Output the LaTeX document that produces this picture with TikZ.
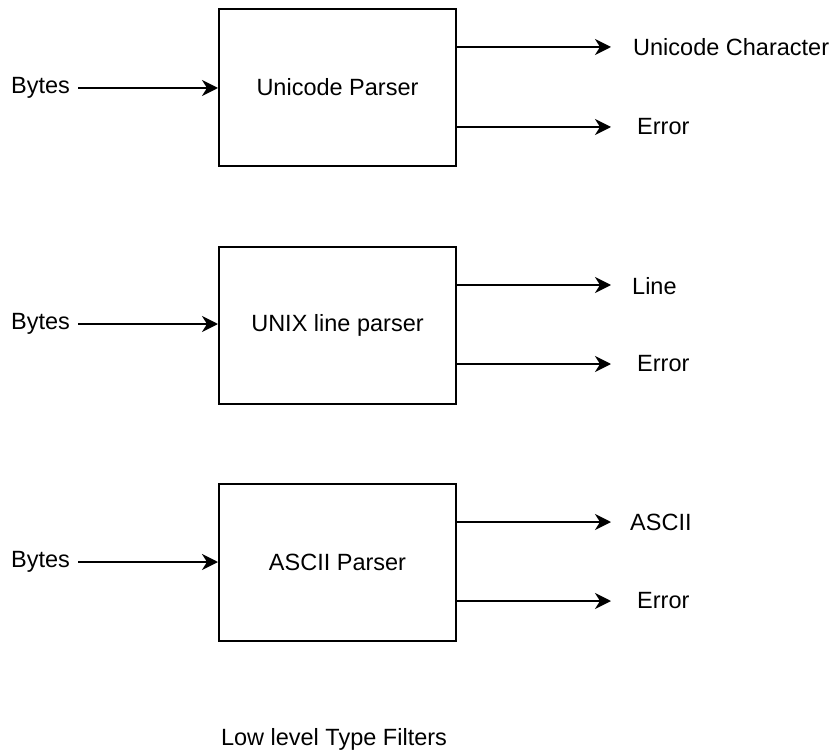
\documentclass[tikz,border=0pt]{standalone}
\usepackage{fontspec}
\setmainfont{Liberation Sans}
\usetikzlibrary{arrows.meta}
\begin{document}
\begin{tikzpicture}[x=1pt,y=-1pt,
  every node/.style={font=\fontsize{23.5}{27}\selectfont, inner sep=0pt},
  parser/.style={draw, line width=2pt, minimum width=237pt, minimum height=157pt, anchor=north west},
  lbl/.style={anchor=west},
  conn/.style={line width=2pt, -{Stealth[length=16pt,width=16pt,inset=5pt]}}]
\useasboundingbox (0,0) rectangle (833,754);
% boxes
\node[parser] (p1) at (218,8) {Unicode Parser};
\node[parser] (p2) at (218,246) {UNIX line parser};
\node[parser] (p3) at (218,483) {ASCII Parser};
% inputs
\node[lbl] (b1) at (11,88) {Bytes};
\node[lbl] (b2) at (11,324) {Bytes};
\node[lbl] (b3) at (11,562) {Bytes};
\coordinate (s1) at (78,88);
\coordinate (s2) at (78,324);
\coordinate (s3) at (78,562);
\draw[conn] (s1) -- (p1.west |- s1);
\draw[conn] (s2) -- (p2.west |- s2);
\draw[conn] (s3) -- (p3.west |- s3);
% outputs
\coordinate (e1a) at (611,47);
\coordinate (e1b) at (611,127);
\coordinate (e2a) at (611,285);
\coordinate (e2b) at (611,364);
\coordinate (e3a) at (611,522);
\coordinate (e3b) at (611,601);
\draw[conn] (p1.east |- e1a) -- (e1a);
\draw[conn] (p1.east |- e1b) -- (e1b);
\draw[conn] (p2.east |- e2a) -- (e2a);
\draw[conn] (p2.east |- e2b) -- (e2b);
\draw[conn] (p3.east |- e3a) -- (e3a);
\draw[conn] (p3.east |- e3b) -- (e3b);
\node[lbl] (o1a) at (633,47) {Unicode Character};
\node[lbl] (o1b) at (637,127) {Error};
\node[lbl] (o2a) at (632,286) {Line};
\node[lbl] (o2b) at (637,364) {Error};
\node[lbl] (o3a) at (630,522) {ASCII};
\node[lbl] (o3b) at (637,601) {Error};
% caption
\node (cap) at (334,739) {Low level Type Filters};
\end{tikzpicture}
\end{document}
